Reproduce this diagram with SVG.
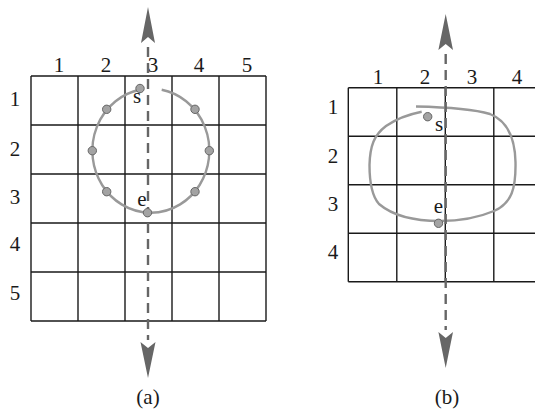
<svg xmlns="http://www.w3.org/2000/svg" width="535" height="412" viewBox="0 0 535 412">
<style>
.grid{stroke:#1a1a1a;stroke-width:1.4;fill:none}
.curve{stroke:#999;stroke-width:2.4;fill:none}
.dash{stroke:#666;stroke-width:2.4;stroke-dasharray:10 6;fill:none}
.dot{fill:#a3a3a3;stroke:#666;stroke-width:1}
.head{fill:#666}
text{font-family:"Liberation Serif","Times New Roman",serif;font-size:21px;fill:#1a1a1a}
.lbl{text-anchor:middle}
</style>
<rect width="535" height="412" fill="#fff"/>
<g id="grid-a">
<path class="grid" d="M31,76H266M31,125H266M31,174H266M31,223H266M31,272H266M31,321H266M31,76V321M78,76V321M125,76V321M172,76V321M219,76V321M266,76V321"/>
<text class="lbl" x="59" y="72">1</text>
<text class="lbl" x="106" y="72">2</text>
<text class="lbl" x="153" y="72">3</text>
<text class="lbl" x="199" y="72">4</text>
<text class="lbl" x="247" y="72">5</text>
<text class="lbl" x="15" y="106">1</text>
<text class="lbl" x="15" y="156">2</text>
<text class="lbl" x="15" y="204">3</text>
<text class="lbl" x="15" y="251">4</text>
<text class="lbl" x="15" y="300">5</text>
</g>
<g id="grid-b">
<path class="grid" d="M348.3,87.7H535M348.3,136.2H535M348.3,184.7H535M348.3,233.2H535M348.3,281.7H535M348.3,87.7V281.7M396.8,87.7V281.7M445.3,87.7V281.7M493.8,87.7V281.7"/>
<text class="lbl" x="378" y="84">1</text>
<text class="lbl" x="425" y="84">2</text>
<text class="lbl" x="472" y="84">3</text>
<text class="lbl" x="517" y="84">4</text>
<text class="lbl" x="333" y="114">1</text>
<text class="lbl" x="333" y="163">2</text>
<text class="lbl" x="333" y="211">3</text>
<text class="lbl" x="333" y="259">4</text>
</g>
<g id="connectors">
<path class="curve" d="M161.7,89.8A58.5,62 0 1 1 140,89.8"/>
<path class="dash" d="M148,47V340"/>
<path class="head" d="M148,7L155,43L148,37L141,43Z"/>
<path class="head" d="M148,378L155.5,342L148,348L140.5,342Z"/>
<path class="curve" d="M416,106.5C440,107 470,108 490,114C508,121 515,140 515.5,162C516,188 512,203 494,211C475,219 455,221 440,221C412,221 392,215 379,204C371,195 369.5,180 369.5,165C370,146 374,135 386,126C396,119 410,114 421.7,111.7"/>
<path class="dash" d="M445.7,54V330"/>
<path class="head" d="M445.7,14L453,50L445.7,44L438.4,50Z"/>
<path class="head" d="M445.7,368L453,332L445.7,338L438.4,332Z"/>
</g>
<g id="points-a">
<circle class="dot" cx="140" cy="88.5" r="4.2"/>
<circle class="dot" cx="106.7" cy="109.3" r="4.2"/>
<circle class="dot" cx="92.3" cy="150.7" r="4.2"/>
<circle class="dot" cx="106.7" cy="191.7" r="4.2"/>
<circle class="dot" cx="147.5" cy="212.7" r="4.2"/>
<circle class="dot" cx="195" cy="191.7" r="4.2"/>
<circle class="dot" cx="209.3" cy="150.7" r="4.2"/>
<circle class="dot" cx="195" cy="109.3" r="4.2"/>
<text class="lbl" x="137" y="103">s</text>
<text class="lbl" x="142" y="206">e</text>
</g>
<g id="points-b">
<circle class="dot" cx="427.7" cy="116.7" r="4.2"/>
<circle class="dot" cx="438.5" cy="223.3" r="4.2"/>
<text class="lbl" x="439" y="131">s</text>
<text class="lbl" x="438.5" y="213">e</text>
</g>
<g id="captions">
<text class="lbl" x="148" y="404">(a)</text>
<text class="lbl" x="447" y="404">(b)</text>
</g>
</svg>
